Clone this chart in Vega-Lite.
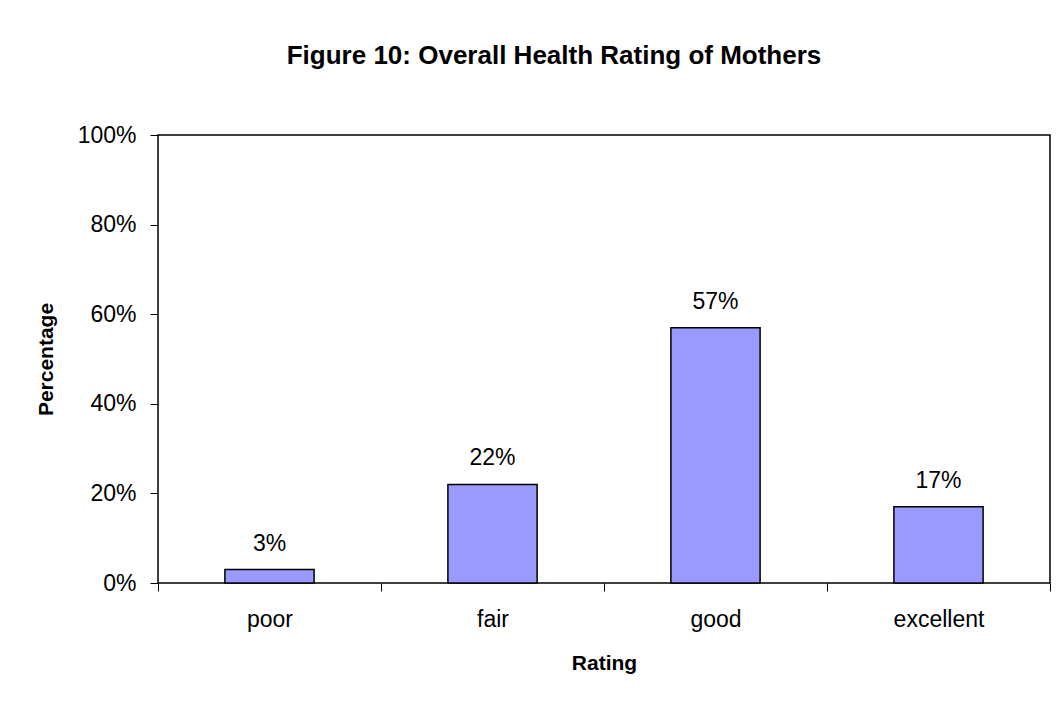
{
  "$schema": "https://vega.github.io/schema/vega-lite/v6.json",
  "autosize": "none",
  "width": 892,
  "height": 448,
  "padding": {"left": 158, "top": 135, "right": 7, "bottom": 118},
  "background": "white",
  "title": {
    "text": "Figure 10: Overall Health Rating of Mothers",
    "font": "Liberation Sans",
    "fontSize": 26,
    "fontWeight": "bold",
    "color": "#000",
    "anchor": "middle",
    "dx": -50,
    "offset": 55
  },
  "data": {
    "values": [
      {"rating": "poor", "pct": 0.03},
      {"rating": "fair", "pct": 0.22},
      {"rating": "good", "pct": 0.57},
      {"rating": "excellent", "pct": 0.17}
    ]
  },
  "encoding": {
    "x": {
      "field": "rating",
      "type": "nominal",
      "sort": null,
      "scale": {"paddingInner": 0, "paddingOuter": 0},
      "axis": {
        "title": "Rating",
        "labelAngle": 0,
        "tickBand": "extent",
        "tickSize": 8,
        "labelPadding": 17,
        "titlePadding": 21,
        "domain": false
      }
    },
    "y": {
      "field": "pct",
      "type": "quantitative",
      "scale": {"domain": [0, 1]},
      "axis": {
        "title": "Percentage",
        "values": [0, 0.2, 0.4, 0.6, 0.8, 1],
        "format": ".0%",
        "grid": false,
        "tickSize": 8,
        "labelPadding": 14,
        "titlePadding": 21,
        "domain": false
      }
    }
  },
  "layer": [
    {
      "mark": {"type": "bar", "width": {"band": 0.4}, "fill": "#9999FF", "stroke": "#000", "strokeWidth": 1.5}
    },
    {
      "mark": {"type": "text", "baseline": "alphabetic", "dy": -19, "font": "Liberation Sans", "fontSize": 23, "color": "#000"},
      "encoding": {
        "text": {"field": "pct", "type": "quantitative", "format": ".0%"}
      }
    }
  ],
  "config": {
    "view": {"stroke": "#000", "strokeWidth": 1.5},
    "axis": {
      "labelFont": "Liberation Sans",
      "labelFontSize": 23,
      "labelColor": "#000",
      "titleFont": "Liberation Sans",
      "titleFontSize": 21,
      "titleFontWeight": "bold",
      "titleColor": "#000",
      "tickColor": "#000",
      "tickWidth": 1
    }
  }
}
